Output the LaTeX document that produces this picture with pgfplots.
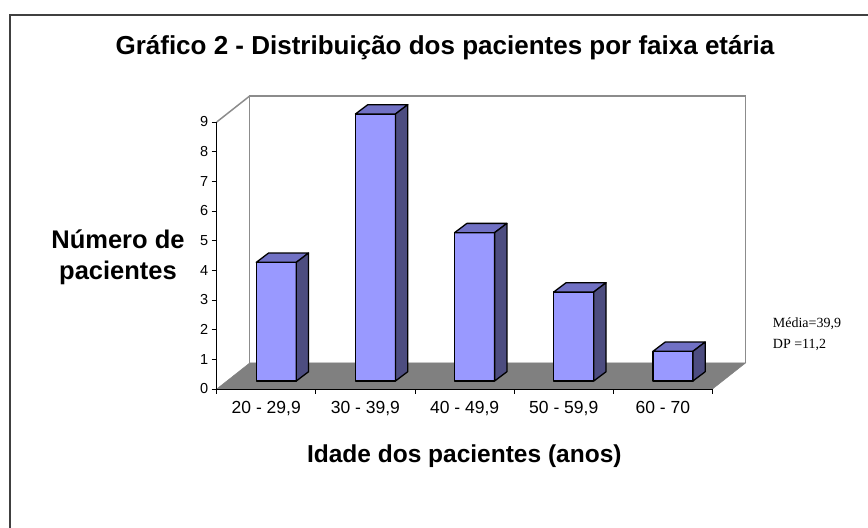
\documentclass[border=0pt]{standalone}
\usepackage{pgfplots}
\pgfplotsset{compat=1.18}
\usepackage{pgfplotstable}
\usepackage{fontspec}
\setmainfont{Liberation Sans}
\newfontfamily\tnr{Liberation Serif}
\definecolor{barfront}{HTML}{9999FF}
\definecolor{bartop}{HTML}{7171C4}
\definecolor{barside}{HTML}{4D4D80}
\definecolor{floorgray}{HTML}{808080}
\definecolor{wallgray}{HTML}{8C8C8C}
\pgfdeclareplotmark{nothing}{}
\pgfplotstableread{
x n
0.5 4
1.5 9
2.5 5
3.5 3
4.5 1
}\agedata
\begin{document}
\begin{tikzpicture}
\path[use as bounding box] (0,0) rectangle (868bp,528bp);
\begin{axis}[
  at={(216.7bp,139bp)}, anchor=south west,
  scale only axis, width=495.8bp, height=267bp,
  xmin=0, xmax=5, ymin=0, ymax=9,
  clip=false, axis on top,
  axis lines*=left, axis line style={-, black, line width=0.9bp},
  xtick={0,1,2,3,4,5}, x tick label as interval,
  xticklabels={{20 - 29,9},{30 - 39,9},{40 - 49,9},{50 - 59,9},{60 - 70}},
  ytick={0,1,...,9},
  tick align=outside, major tick length=5bp,
  tick style={black, line width=0.9bp},
  xticklabel shift=4bp,
  x tick label style={font=\fontsize{17.5bp}{20bp}\selectfont},
  y tick label style={font=\fontsize{14.5bp}{17bp}\selectfont},
  /pgf/number format/assume math mode=true,
]
\addplot[fill=white, draw=wallgray, line width=1.5bp] coordinates {(0.3328,0.8764) (0.3328,9.8764) (5.3328,9.8764) (5.3328,0.8764)};
\addplot[draw=wallgray, line width=1.5bp] coordinates {(0,9) (0.3328,9.8764)};
\addplot[fill=floorgray, draw=floorgray, line width=0.5bp] coordinates {(0,0) (5,0) (5.3328,0.8764) (0.3328,0.8764) (0,0)};
\addplot[scatter, only marks, mark=nothing,
  visualization depends on={y \as \nval},
  scatter/@pre marker code/.code={
    \pgfmathfloatparsenumber{\nval}\pgfmathfloattofixed{\pgfmathresult}\let\vv\pgfmathresult
    \pgfmathsetlengthmacro\hh{\vv*29.6667bp}
    \filldraw[fill=barfront, draw=black, line width=1.3bp, line join=round] (-10bp,8bp) rectangle (30bp,8bp-\hh);
    \filldraw[fill=bartop, draw=black, line width=1.3bp, line join=round] (-10bp,8bp) -- (30bp,8bp) -- (42.3bp,17.3bp) -- (2.3bp,17.3bp) -- cycle;
    \filldraw[fill=barside, draw=black, line width=1.3bp, line join=round] (30bp,8bp-\hh) -- (42.3bp,17.3bp-\hh) -- (42.3bp,17.3bp) -- (30bp,8bp) -- cycle;
  },
  scatter/@post marker code/.code={},
] table[x=x, y=n] \agedata;
\end{axis}
\draw[black!75, line width=2bp] (10bp,0bp) -- (10bp,513.3bp) -- (868bp,513.3bp);
\node[anchor=base, font=\bfseries\fontsize{26bp}{30bp}\selectfont] at (445bp,473bp) {Gráfico 2 - Distribuição dos pacientes por faixa etária};
\node[anchor=base, font=\bfseries\fontsize{25.5bp}{30bp}\selectfont] at (118bp,279.7bp) {Número de};
\node[anchor=base, font=\bfseries\fontsize{25.5bp}{30bp}\selectfont] at (118bp,248bp) {pacientes};
\node[anchor=base, font=\bfseries\fontsize{24.5bp}{30bp}\selectfont] at (464.3bp,65bp) {Idade dos pacientes (anos)};
\node[anchor=base west, inner sep=0pt, font=\tnr\fontsize{14bp}{16bp}\selectfont] at (772.7bp,200bp) {Média=39,9};
\node[anchor=base west, inner sep=0pt, font=\tnr\fontsize{14bp}{16bp}\selectfont] at (772.7bp,179.7bp) {DP =11,2};
\end{tikzpicture}
\end{document}
